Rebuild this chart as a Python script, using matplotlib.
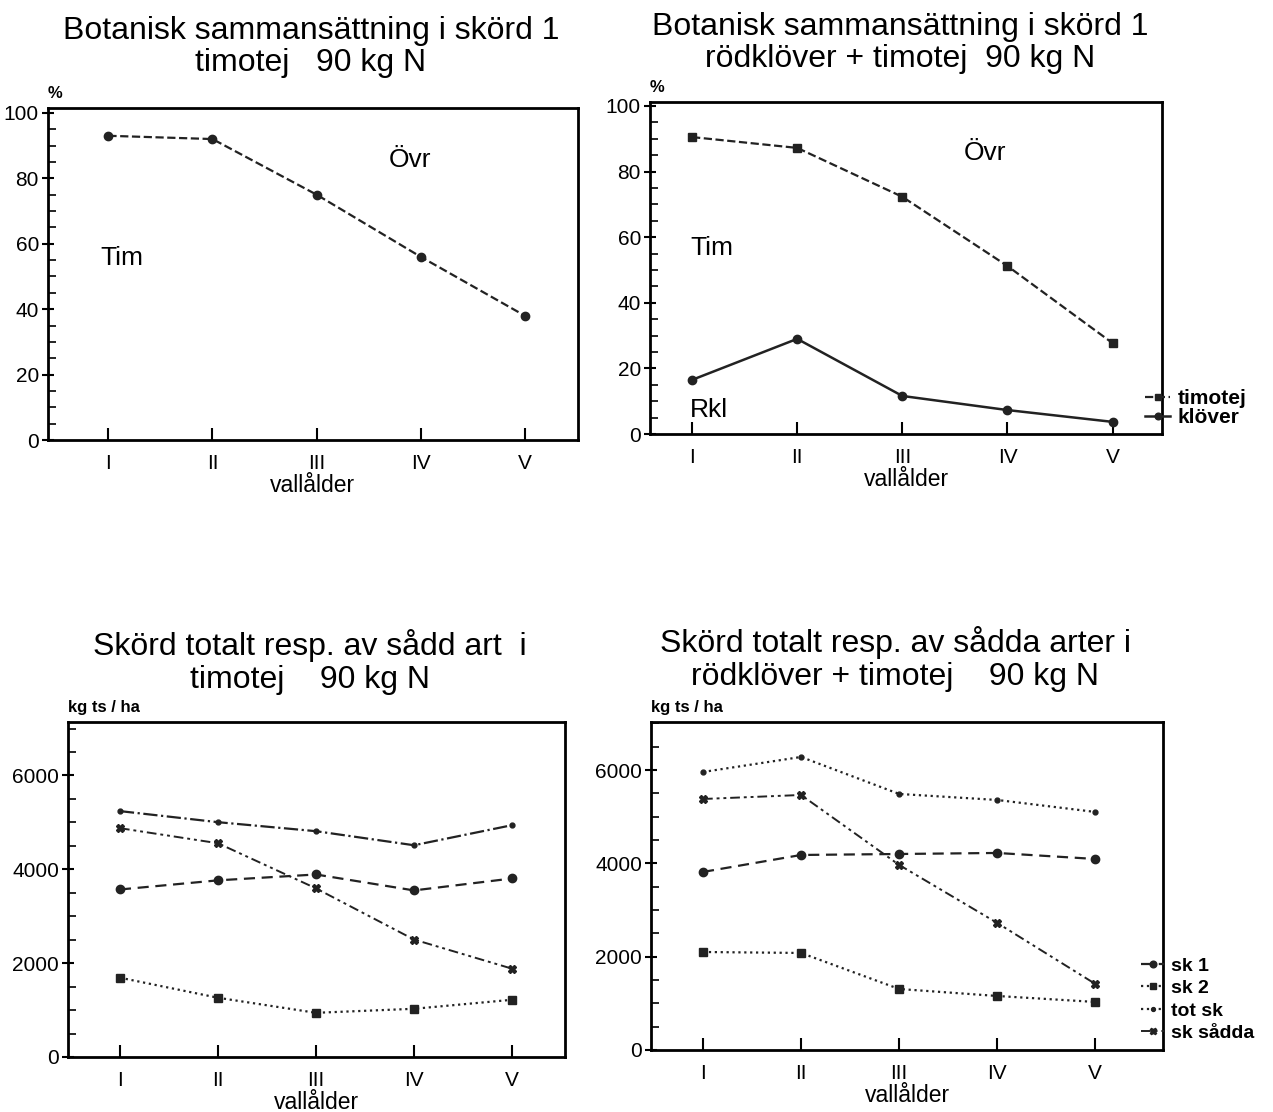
import matplotlib.pyplot as plt
from matplotlib.ticker import MultipleLocator

plt.rcParams['font.family'] = ['Liberation Sans', 'DejaVu Sans']

# vallålder (ley age)
ages = ['I', 'II', 'III', 'IV', 'V']
xpos = [1, 2, 3, 4, 5]

# botanisk sammansättning, %
tim_pure = [93, 92, 75, 56, 38]
tim_mix = [90.5, 87.2, 72.3, 51.2, 27.7]
klover_mix = [16.5, 29, 11.6, 7.3, 3.7]

# skörd, kg ts / ha — timotej
t_sk1 = [3570, 3765, 3890, 3550, 3805]
t_sk2 = [1690, 1262, 941, 1027, 1219]
t_tot = [5241, 5005, 4813, 4513, 4941]
t_sadda = [4877, 4556, 3594, 2503, 1882]

# skörd, kg ts / ha — rödklöver + timotej
r_sk1 = [3816, 4180, 4201, 4223, 4094]
r_sk2 = [2100, 2079, 1307, 1157, 1029]
r_tot = [5959, 6281, 5488, 5359, 5102]
r_sadda = [5380, 5466, 3966, 2722, 1415]

W, H = 1273, 1112
fig = plt.figure(figsize=(W / 100, H / 100), dpi=100)

ax1 = fig.add_axes([0.0377, 0.6043, 0.4163, 0.2986])
ax2 = fig.add_axes([0.5106, 0.6097, 0.4022, 0.2986])
ax3 = fig.add_axes([0.0534, 0.0495, 0.3904, 0.3012])
ax4 = fig.add_axes([0.5114, 0.0558, 0.4022, 0.2949])

dashdotdot = (0, (5, 2, 1.5, 2, 1.5, 2))


def style(ax, xlim, ylim, major, minor):
    ax.set_xlim(*xlim)
    ax.set_ylim(*ylim)
    for s in ax.spines.values():
        s.set_linewidth(2)
    ax.set_xticks(xpos)
    ax.set_xticklabels(ages)
    ax.yaxis.set_major_locator(MultipleLocator(major))
    ax.yaxis.set_minor_locator(MultipleLocator(minor))
    ax.tick_params(axis='x', direction='in', length=9, width=1.5, pad=10, labelsize=15)
    ax.tick_params(axis='y', which='major', direction='inout', length=9, width=1.5, pad=2, labelsize=15)
    ax.tick_params(axis='y', which='minor', direction='in', length=6, width=1.2)
    ax.set_xlabel('vallålder', fontsize=16.5, labelpad=1)


def title(text, x, y):
    fig.text(x / W, 1 - y / H, text, fontsize=23, ha='center', va='center', linespacing=1.1)


# top left
ax1.plot(xpos, tim_pure, color='#222', ls='--', lw=1.6, marker='o', ms=6)
style(ax1, (0.42, 5.51), (0, 101.5), 20, 5)
title('Botanisk sammansättning i skörd 1\ntimotej   90 kg N', 311, 47)
ax1.text(0.0, 1.03, '%', transform=ax1.transAxes, fontsize=12, fontweight='bold')
ax1.text(0.92, 55.7, 'Tim', fontsize=19, va='center')
ax1.text(3.69, 85.6, 'Övr', fontsize=19, va='center')

# top right
l1, = ax2.plot(xpos, tim_mix, color='#222', ls='--', lw=1.6, marker='s', ms=6, label='timotej')
l2, = ax2.plot(xpos, klover_mix, color='#222', ls='-', lw=1.8, marker='o', ms=6, label='klöver')
style(ax2, (0.6, 5.47), (0, 101.2), 20, 5)
title('Botanisk sammansättning i skörd 1\nrödklöver + timotej  90 kg N', 900, 43)
ax2.text(0.0, 1.03, '%', transform=ax2.transAxes, fontsize=12, fontweight='bold')
ax2.text(0.98, 56.7, 'Tim', fontsize=19, va='center')
ax2.text(3.58, 85.7, 'Övr', fontsize=19, va='center')
ax2.text(0.98, 7.3, 'Rkl', fontsize=19, va='center')
fig.legend(handles=[l1, l2], loc='upper left', bbox_to_anchor=(1145 / W, 1 - 389 / H),
           frameon=False, prop={'size': 15, 'weight': 'bold'}, handlelength=1.2,
           handletextpad=0.35, labelspacing=0.0, markerscale=0.8, borderpad=0, borderaxespad=0)

# bottom left
ax3.plot(xpos, t_sk1, color='#222', ls=(0, (5, 3)), lw=1.6, marker='o', ms=6)
ax3.plot(xpos, t_sk2, color='#222', ls=':', lw=1.6, marker='s', ms=6)
ax3.plot(xpos, t_tot, color='#222', ls='-.', lw=1.6, marker='o', ms=3.5)
ax3.plot(xpos, t_sadda, color='#222', ls=dashdotdot, lw=1.4, marker='X', ms=6)
style(ax3, (0.47, 5.54), (0, 7140), 2000, 500)
title('Skörd totalt resp. av sådd art  i\ntimotej    90 kg N', 310, 662)
ax3.text(0.0, 1.03, 'kg ts / ha', transform=ax3.transAxes, fontsize=12, fontweight='bold')

# bottom right
h1, = ax4.plot(xpos, r_sk1, color='#222', ls=(0, (5, 3)), lw=1.6, marker='o', ms=6, label='sk 1')
h2, = ax4.plot(xpos, r_sk2, color='#222', ls=':', lw=1.6, marker='s', ms=6, label='sk 2')
h3, = ax4.plot(xpos, r_tot, color='#222', ls=':', lw=1.6, marker='o', ms=3.5, label='tot sk')
h4, = ax4.plot(xpos, r_sadda, color='#222', ls=dashdotdot, lw=1.4, marker='X', ms=6, label='sk sådda')
style(ax4, (0.47, 5.69), (0, 7030), 2000, 500)
title('Skörd totalt resp. av sådda arter i\nrödklöver + timotej    90 kg N', 895, 659)
ax4.text(0.0, 1.03, 'kg ts / ha', transform=ax4.transAxes, fontsize=12, fontweight='bold')
fig.legend(handles=[h1, h2, h3, h4], loc='upper left', bbox_to_anchor=(1141 / W, 1 - 957 / H),
           frameon=False, prop={'size': 14, 'weight': 'bold'}, handlelength=1.2,
           handletextpad=0.35, labelspacing=0.25, markerscale=0.8, borderpad=0, borderaxespad=0)

fig.savefig('out.png', dpi=100)
